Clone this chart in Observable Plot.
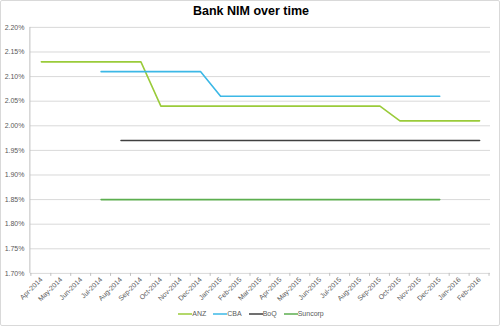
<!DOCTYPE html>
<html>
<head>
<meta charset="utf-8">
<script src="https://cdn.jsdelivr.net/npm/d3@7"></script>
<script src="https://cdn.jsdelivr.net/npm/@observablehq/plot@0.6"></script>
<style>
  html, body { margin: 0; padding: 0; background: #fff; }
  #chart { position: relative; width: 498px; height: 324px; border: 1px solid #d9d9d9; border-radius: 2px; overflow: hidden; font-family: "Liberation Sans", Arial, sans-serif; }
  #chart svg { position: absolute; left: -1px; top: -1px; }
  #title { position: absolute; left: 0; top: 3px; width: 500px; text-align: center; font-weight: bold; font-size: 12.5px; color: #000; }
  #legend { position: absolute; left: 0; top: 309px; width: 500px; display: flex; justify-content: center; gap: 7px; font-size: 7px; color: #595959; }
  .item { display: flex; align-items: center; }
  .sw { display: inline-block; width: 14px; height: 2px; margin-right: 0px; opacity: 0.75; }
</style>
</head>
<body>
<div id="chart">
  <div id="title">Bank NIM over time</div>
  <div id="legend"></div>
</div>
<script>
const months = ["Apr-2014","May-2014","Jun-2014","Jul-2014","Aug-2014","Sep-2014","Oct-2014","Nov-2014","Dec-2014","Jan-2015","Feb-2015","Mar-2015","Apr-2015","May-2015","Jun-2015","Jul-2015","Aug-2015","Sep-2015","Oct-2015","Nov-2015","Dec-2015","Jan-2016","Feb-2016"];
const banks = ["ANZ", "CBA", "BoQ", "Suncorp"];
const colors = ["#9acb3a", "#3cb8e6", "#404040", "#5cae4f"];
const anz = [2.13,2.13,2.13,2.13,2.13,2.13,2.04,2.04,2.04,2.04,2.04,2.04,2.04,2.04,2.04,2.04,2.04,2.04,2.01,2.01,2.01,2.01,2.01];
const cba = [null,null,null,2.11,2.11,2.11,2.11,2.11,2.11,2.06,2.06,2.06,2.06,2.06,2.06,2.06,2.06,2.06,2.06,2.06,2.06,null,null];
const boq = [null,null,null,null,1.97,1.97,1.97,1.97,1.97,1.97,1.97,1.97,1.97,1.97,1.97,1.97,1.97,1.97,1.97,1.97,1.97,1.97,1.97];
const suncorp = [null,null,null,1.85,1.85,1.85,1.85,1.85,1.85,1.85,1.85,1.85,1.85,1.85,1.85,1.85,1.85,1.85,1.85,1.85,1.85,null,null];
const yTicks = [1.70,1.75,1.80,1.85,1.90,1.95,2.00,2.05,2.10,2.15,2.20];

const series = [anz, cba, boq, suncorp];
const rows = [];
series.forEach((vals, i) => vals.forEach((v, j) => {
  if (v != null) rows.push({bank: banks[i], month: months[j], value: v});
}));

const plot = Plot.plot({
  width: 500, height: 326,
  marginTop: 27, marginBottom: 52, marginLeft: 30, marginRight: 8,
  style: { fontFamily: "'Liberation Sans', Arial, sans-serif", fontSize: "7px", color: "#595959", background: "transparent", overflow: "visible" },
  x: { type: "point", domain: months, padding: 0.5, label: null, tickRotate: -45, tickSize: 0, tickPadding: 5 },
  y: { domain: [1.70, 2.20], ticks: yTicks, tickFormat: d => d.toFixed(2) + "%", label: null, tickSize: 0, tickPadding: 6 },
  color: { domain: banks, range: colors },
  marks: [
    Plot.gridY(yTicks, { stroke: "#d9d9d9", strokeOpacity: 1 }),
    Plot.line(rows, { x: "month", y: "value", z: "bank", stroke: "bank", strokeWidth: 1.6, curve: "linear" })
  ]
});

// left axis line and category-boundary tick marks, computed from the scales
const xs = plot.scale("x"), ys = plot.scale("y");
const xr = xs.range, yr = ys.range;
const g = d3.select(plot).append("g").attr("stroke", "#bfbfbf");
g.append("line")
  .attr("x1", xr[0]).attr("x2", xr[0]).attr("y1", yr[0]).attr("y2", yr[1]);
const step = xs.apply(months[1]) - xs.apply(months[0]);
const bounds = months.map(m => xs.apply(m) - step / 2).concat([xs.apply(months[months.length - 1]) + step / 2]);
g.selectAll(".bt").data(bounds).join("line")
  .attr("x1", d => d).attr("x2", d => d)
  .attr("y1", yr[0]).attr("y2", yr[0] + 3);

document.getElementById("chart").appendChild(plot);

const legend = document.getElementById("legend");
banks.forEach((b, i) => {
  const it = document.createElement("div");
  it.className = "item";
  it.innerHTML = `<span class="sw" style="background:${colors[i]}"></span><span>${b}</span>`;
  legend.appendChild(it);
});
</script>
</body>
</html>
